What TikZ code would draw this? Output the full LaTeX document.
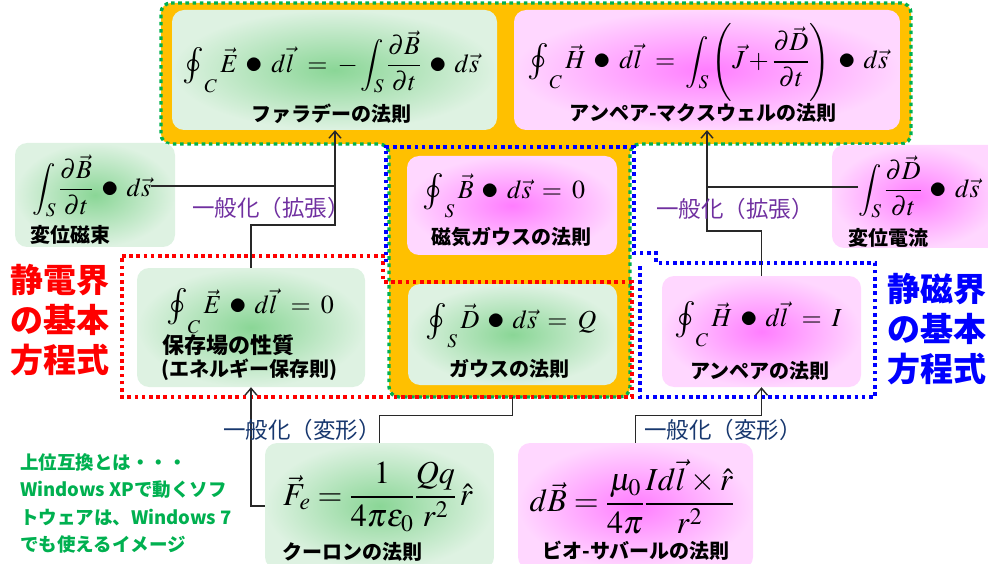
\documentclass[tikz,border=0pt]{standalone}
\usepackage{mathptmx}
\usepackage{fontspec}
\newfontfamily\jp{Noto Sans CJK JP}
\usetikzlibrary{arrows.meta,calc}
\definecolor{orng}{RGB}{255,192,0}
\definecolor{gdot}{RGB}{0,176,80}
\definecolor{gin}{RGB}{138,214,150}
\definecolor{gout}{RGB}{222,242,226}
\definecolor{pin}{RGB}{255,125,255}
\definecolor{pout}{RGB}{255,215,255}
\definecolor{purp}{RGB}{112,48,160}
\definecolor{navy}{RGB}{23,55,110}
\definecolor{connc}{RGB}{40,40,40}
\definecolor{notegreen}{RGB}{0,176,80}
\newcommand{\bul}{\mathbin{\mskip3mu\vcenter{\hbox{\scalebox{1.35}{$\bullet$}}}\mskip3mu}}
\newcommand{\eqq}{\mathrel{\mskip3mu=\mskip3mu}}
\newcommand{\cint}[1]{\mathop{\vcenter{\hbox{\scalebox{1.4}{$\textstyle\oint$}}}}\nolimits_{\raisebox{-7pt}{$\scriptstyle #1$}}}
\begin{document}
\begin{tikzpicture}[x=1pt,y=-1pt,
  dotline/.style={line width=3.4pt, dash pattern=on 3.6pt off 3.6pt},
  boxbase/.style={rectangle, rounded corners=12pt, inner sep=0pt, draw=none},
  gbox/.style={boxbase, inner color=gin, outer color=gout},
  pbox/.style={boxbase, inner color=pin, outer color=pout},
  fml/.style={inner sep=0pt, font=\fontsize{26}{31}\selectfont},
  fmlbig/.style={inner sep=0pt, font=\fontsize{32}{38}\selectfont},
  lbl/.style={inner sep=0pt, font=\jp\bfseries\fontsize{20}{23}\selectfont},
  gen/.style={inner sep=0pt, font=\jp\fontsize{22.5}{25}\selectfont},
  big/.style={inner sep=0pt, align=left, font=\jp\bfseries\fontsize{33}{40}\selectfont},
  conn/.style={draw=connc, line width=1.4pt},
  tip/.style={-{Straight Barb[length=7pt,width=12pt]}}
]
\useasboundingbox (0,0) rectangle (988,564);
\clip (0,0) rectangle (988,564);

% orange T-shaped frame with green dotted outline
\path[fill=orng, draw=gdot, dotline, rounded corners=10pt]
  (161,3) -- (911,3) -- (911,144) -- (630,144) -- (630,397) -- (389,397)
  -- (389,144) -- (161,144) -- cycle;

% red dotted frame (electrostatics)
\draw[red, dotline] (122,256) -- (383,256) -- (383,282) -- (632,282)
  -- (632,397) -- (122,397) -- cycle;
% blue dotted frame (magnetostatics)
\draw[blue, dotline] (640,266) -- (640,397) -- (875,397) -- (875,263)
  -- (656,263) -- (656,253) -- (634,253) -- (634,147) -- (386,147) -- (386,266);

% boxes
\node[gbox, minimum width=325pt, minimum height=120pt] (farBox) at (334.5,70) {};
\node[pbox, minimum width=386pt, minimum height=120pt] (amBox) at (707,70) {};
\node[gbox, minimum width=160pt, minimum height=104pt] (dfBox) at (95,195) {};
\node[pbox, minimum width=168pt, minimum height=103pt] (dcBox) at (916,196.5) {};
\node[pbox, minimum width=210pt, minimum height=99pt] (mgBox) at (512,205.5) {};
\node[gbox, minimum width=209pt, minimum height=101pt] (gsBox) at (512.5,334.5) {};
\node[gbox, minimum width=228pt, minimum height=119pt] (hsBox) at (251,327.5) {};
\node[pbox, minimum width=199pt, minimum height=111pt] (apBox) at (761.5,331.5) {};
\node[gbox, minimum width=229pt, minimum height=126pt] (cBox) at (379.5,506) {};
\node[pbox, minimum width=235pt, minimum height=126pt] (bBox) at (635.5,506) {};

% formulas
\node[fml] (farF) at (331,62) {$\displaystyle \cint{C} \vec{E}\bul d\vec{l}\, \eqq -\int\nolimits_S \frac{\partial\vec{B}}{\partial t}\bul d\vec{s}$};
\node[fml] (amF) at (708,62) {$\displaystyle \cint{C} \vec{H}\bul d\vec{l}\, \eqq \int\nolimits_S \left(\vec{J}+\frac{\partial\vec{D}}{\partial t}\right)\bul d\vec{s}$};
\node[fml] (dfF) at (92,186) {$\displaystyle \int\nolimits_S \frac{\partial\vec{B}}{\partial t}\bul d\vec{s}$};
\node[fml] (dcF) at (919,187) {$\displaystyle \int\nolimits_S \frac{\partial\vec{D}}{\partial t}\bul d\vec{s}$};
\node[fml] (mgF) at (504,196) {$\displaystyle \cint{S} \vec{B}\bul d\vec{s} \eqq 0$};
\node[fml] (gsF) at (511,326) {$\displaystyle \cint{S} \vec{D}\bul d\vec{s} \eqq Q$};
\node[fml] (hsF) at (250,311) {$\displaystyle \cint{C} \vec{E}\bul d\vec{l}\, \eqq 0$};
\node[fml] (apF) at (758,324) {$\displaystyle \cint{C} \vec{H}\bul d\vec{l}\, \eqq I$};
\node[fmlbig] (cF) at (378,497) {$\displaystyle \vec{F}_e = \frac{1}{4\pi\varepsilon_0}\frac{Qq}{r^2}\,\hat{r}$};
\node[fmlbig] (bF) at (632,497) {$\displaystyle d\vec{B} = \frac{\mu_0}{4\pi}\frac{I d\vec{l}\times\hat{r}}{r^2}$};

% labels
\node[lbl] (farL) at (331,114) {ファラデーの法則};
\node[lbl] (amL) at (703,113) {アンペア-マクスウェルの法則};
\node[lbl] (dfL) at (70,235) {変位磁束};
\node[lbl] (dcL) at (888,238) {変位電流};
\node[lbl] (mgL) at (511,237) {磁気ガウスの法則};
\node[lbl] (gsL) at (509,369) {ガウスの法則};
\node[lbl, anchor=west, font=\jp\bfseries\fontsize{22}{25}\selectfont] (hsL1) at (162,345) {保存場の性質};
\node[lbl, anchor=west] (hsL2) at (161,370) {(エネルギー保存則)};
\node[lbl] (apL) at (760,371) {アンペアの法則};
\node[lbl, anchor=west] (cL) at (282,552) {クーロンの法則};
\node[lbl] (bL) at (636,551) {ビオ-サバールの法則};

% connectors
\coordinate (jL) at (335,225);
\coordinate (jR) at (707,231);
\draw[conn, tip] (hsBox.north) |- (jL) -- (jL |- farBox.south);
\draw[conn] (dfF.east) -- (dfF.east -| jL);
\draw[conn, tip] (apBox.north) |- (jR) -- (jR |- amBox.south);
\draw[conn] (dcF.west) -- (dcF.west -| jR);
\draw[conn, tip] (cBox.west) -| (hsBox.south);
\draw[conn] (cBox.north) |- ([yshift=-30pt]gsBox.south) -- ([yshift=-12pt]gsBox.south);
\draw[conn, tip] (bBox.north) |- ([yshift=-28pt]apBox.south) -- (apBox.south);

% generalisation texts
\node[gen, text=purp] (genL) at (271,208) {一般化（拡張）};
\node[gen, text=purp] (genR) at (735,209) {一般化（拡張）};
\node[gen, text=navy] (defL) at (302,430) {一般化（変形）};
\node[gen, text=navy] (defR) at (723,430) {一般化（変形）};

% big side titles
\node[big, text=red] (esT) at (60,320) {静電界\\の基本\\方程式};
\node[big, text=blue] (msT) at (937,329) {静磁界\\の基本\\方程式};

% note
\node[inner sep=0pt, anchor=north west, align=left, text=notegreen,
  font=\jp\bfseries\fontsize{18.5}{27.5}\selectfont] (note) at (20,453)
  {上位互換とは・・・\\Windows XPで動くソフ\\トウェアは、Windows 7\\でも使えるイメージ};
\end{tikzpicture}
\end{document}
